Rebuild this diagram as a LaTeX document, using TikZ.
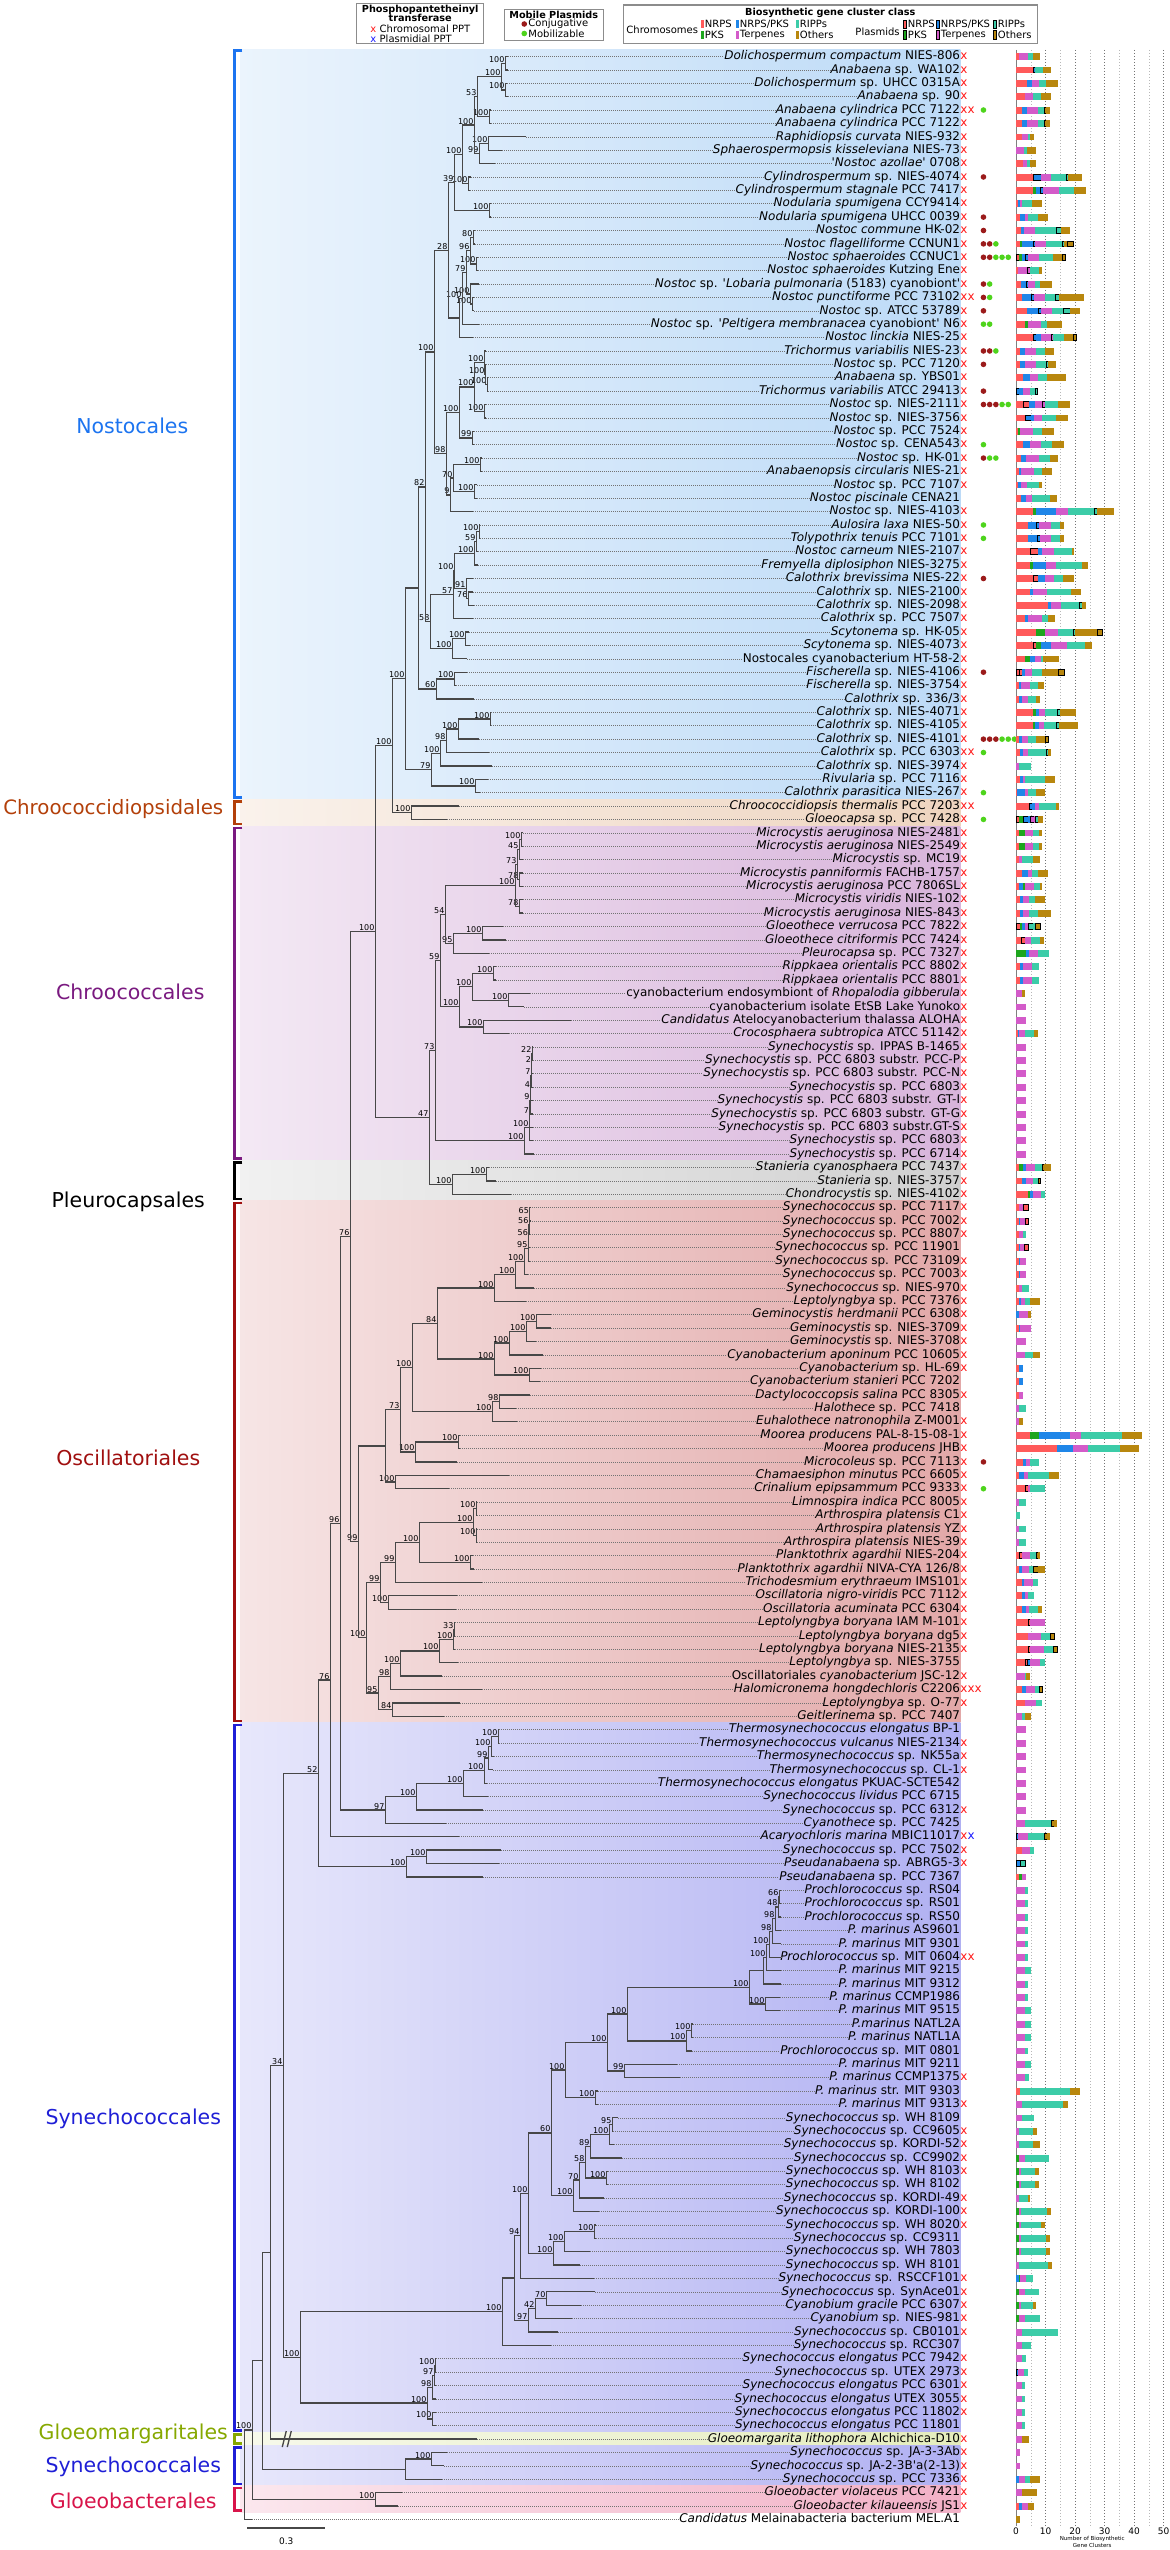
\documentclass[tikz,border=0pt]{standalone}
\usepackage{fontspec}
\setmainfont{DejaVu Sans}
\usetikzlibrary{calc}
\definecolor{fr}{HTML}{FF5A5A}
\definecolor{fk}{HTML}{1DA61D}
\definecolor{fb}{HTML}{1F86E8}
\definecolor{fm}{HTML}{D35BC9}
\definecolor{ft}{HTML}{3CCCA8}
\definecolor{fo}{HTML}{B8870E}
\colorlet{fR}{fr}\colorlet{fK}{fk}\colorlet{fB}{fb}\colorlet{fM}{fm}\colorlet{fT}{ft}\colorlet{fO}{fo}
\colorlet{er}{fr}\colorlet{ek}{fk}\colorlet{eb}{fb}\colorlet{em}{fm}\colorlet{et}{ft}\colorlet{eo}{fo}
\colorlet{eR}{black}\colorlet{eK}{black}\colorlet{eB}{black}\colorlet{eM}{black}\colorlet{eT}{black}\colorlet{eO}{black}
\definecolor{pptred}{HTML}{FF1A1A}
\definecolor{pptblue}{HTML}{1A1AFF}
\definecolor{conjc}{HTML}{9B1B1B}
\definecolor{mobic}{HTML}{4ED41C}
\definecolor{nosC}{HTML}{1C74F0}
\definecolor{cdpC}{HTML}{B3400A}
\definecolor{chrC}{HTML}{7A1A80}
\definecolor{oscC}{HTML}{A00F0F}
\definecolor{synC}{HTML}{1F1FD6}
\definecolor{gmaC}{HTML}{86A800}
\definecolor{gbaC}{HTML}{D8154A}
\definecolor{nosB}{HTML}{BCDAF7}
\definecolor{cdpB}{HTML}{EED4BF}
\definecolor{chrB}{HTML}{D8B4DB}
\definecolor{pleB}{HTML}{D0D0D0}
\definecolor{oscB}{HTML}{E2A8A8}
\definecolor{synB}{HTML}{B0B0F2}
\definecolor{gmaB}{HTML}{E4ECBC}
\definecolor{gbaB}{HTML}{F2B0C6}
\newcommand\squote{\textquotesingle}
\newcommand\leaf[7]{%
  \coordinate (t#1) at (#2,#1);
  \node[taxon] (l#1) at (960,#1) {#3};
  \draw[tipline] (t#1) -- (l#1.west);
  \if\relax\detokenize{#4}\relax\else\node[ppt] (x#1) at (960,#1) {#4};\fi
  \ifnum#5>0 \foreach \dd in {1,...,#5}{\node[conj] (c#1n\dd) at ({977+6.2*\dd},#1) {};}\fi
  \ifnum#6>0 \foreach \dd in {1,...,#6}{\node[mobi] (m#1n\dd) at ({977+6.2*(#5+\dd)},#1) {};}\fi
  \gdef\bpos{0}%
  \foreach \col/\wid in {#7}{\path[fill=f\col,draw=e\col,line width=0.7pt] ({1015.8+2.95*\bpos},#1-0.22) rectangle ({1015.8+2.95*(\bpos+\wid)},#1+0.22);
    \pgfmathsetmacro\bnext{\bpos+\wid}\global\let\bpos\bnext}%
}
\newcommand\clade[5]{%
  \path let \p1=(#3),\p2=(#4) in (#2pt,{0.5*(\y1+\y2)}) coordinate (#1);
  \draw[branch] (#3) -| (#1) |- (#4);
  \if\relax\detokenize{#5}\relax\else\node[boot] (#1b) at (#1) {#5};\fi
}

\begin{document}
\begin{tikzpicture}[x=1pt,y=-13.385pt,
  taxon/.style={anchor=east,inner sep=0pt,text height=8.8pt,text depth=2.4pt,font=\fontsize{12}{12}\selectfont},
  ppt/.style={anchor=west,inner sep=0pt,text height=8.8pt,text depth=2.4pt,text=pptred,font=\fontsize{12}{12}\selectfont},
  conj/.style={circle,fill=conjc,inner sep=0pt,minimum size=5.6pt},
  mobi/.style={circle,fill=mobic,inner sep=0pt,minimum size=5.6pt},
  branch/.style={draw=black!72,line width=1.3pt},
  tipline/.style={draw=black!55,line width=0.6pt,dash pattern=on 0.7pt off 1.3pt},
  boot/.style={anchor=south east,inner sep=0.7pt,font=\fontsize{8}{8}\selectfont},
  cladelbl/.style={font=\fontsize{20.5}{20.5}\selectfont},
  bracket/.style={line width=2.6pt},
  legbox/.style={draw=black!45,line width=1.2pt,fill=white},
  legtitle/.style={inner sep=0pt,font=\bfseries\fontsize{9.7}{9.7}\selectfont},
  legtext/.style={anchor=west,inner sep=0pt,font=\fontsize{10}{10}\selectfont},
  gridten/.style={draw=black!55,line width=0.5pt,dash pattern=on 1.5pt off 1.5pt},
  gridfive/.style={draw=black!28,line width=0.5pt,dash pattern=on 1.5pt off 1.5pt},
  axislbl/.style={inner sep=0pt,font=\fontsize{9}{9}\selectfont}]

\begin{scope}[y=-1pt,yshift=56.5pt]
\useasboundingbox (0,0) rectangle (1166,2550);
\end{scope}

\path[left color=nosB!30,right color=nosB] (240,-0.5) rectangle (960,55.5);
\path[left color=cdpB!30,right color=cdpB] (240,55.5) rectangle (960,57.5);
\path[left color=chrB!30,right color=chrB] (240,57.5) rectangle (960,82.5);
\path[left color=pleB!30,right color=pleB] (240,82.5) rectangle (960,85.5);
\path[left color=oscB!30,right color=oscB] (240,85.5) rectangle (960,124.5);
\path[left color=synB!30,right color=synB] (240,124.5) rectangle (960,177.5);
\path[left color=gmaB!30,right color=gmaB] (240,177.5) rectangle (960,178.5);
\path[left color=synB!30,right color=synB] (240,178.5) rectangle (960,181.5);
\path[left color=gbaB!30,right color=gbaB] (240,181.5) rectangle (960,183.5);

\draw[bracket,draw=nosC] (242,-0.45) -- (234,-0.45) -- (234,55.35) -- (242,55.35);
\draw[bracket,draw=cdpC] (242,55.65) -- (234,55.65) -- (234,57.35) -- (242,57.35);
\draw[bracket,draw=chrC] (242,57.65) -- (234,57.65) -- (234,82.35) -- (242,82.35);
\draw[bracket,draw=black] (242,82.65) -- (234,82.65) -- (234,85.35) -- (242,85.35);
\draw[bracket,draw=oscC] (242,85.65) -- (234,85.65) -- (234,124.35) -- (242,124.35);
\draw[bracket,draw=synC] (242,124.65) -- (234,124.65) -- (234,177.35) -- (242,177.35);
\draw[bracket,draw=gmaC] (242,177.65) -- (234,177.65) -- (234,178.35) -- (242,178.35);
\draw[bracket,draw=synC] (242,178.65) -- (234,178.65) -- (234,181.35) -- (242,181.35);
\draw[bracket,draw=gbaC] (242,181.65) -- (234,181.65) -- (234,183.35) -- (242,183.35);

\node[cladelbl,text=nosC] (nos) at (132,27.6) {Nostocales};
\node[cladelbl,text=cdpC,font=\fontsize{19.8}{19.8}\selectfont] (cdp) at (113,56.2) {Chroococcidiopsidales};
\node[cladelbl,text=chrC] (chr) at (130,69.9) {Chroococcales};
\node[cladelbl,text=black] (ple) at (128,85.6) {Pleurocapsales};
\node[cladelbl,text=oscC] (osc) at (128,104.7) {Oscillatoriales};
\node[cladelbl,text=synC] (syn1) at (133,154.1) {Synechococcales};
\node[cladelbl,text=gmaC] (gma) at (133,177.6) {Gloeomargaritales};
\node[cladelbl,text=synC] (syn2) at (133,180.1) {Synechococcales};
\node[cladelbl,text=gbaC] (gba) at (133,182.6) {Gloeobacterales};

\draw[draw=black!50,line width=0.8pt] (1015.8,-0.5) -- (1015.8,184.5);
\foreach \g in {1,3,5,7,9} {\draw[gridfive] ({1015.8+14.75*\g},-0.5) -- ({1015.8+14.75*\g},184.5);}
\foreach \g in {2,4,6,8,10} {\draw[gridten] ({1015.8+14.75*\g},-0.5) -- ({1015.8+14.75*\g},184.5);}

\begin{scope}[y=-1pt,yshift=56.5pt]
\draw[legbox] (356,3.3) rectangle (483,43.3);
\node[legtitle] (pp1) at (420,9.5) {Phosphopantetheinyl};
\node[legtitle] (pp2) at (420,17.5) {transferase};
\node[legtext] (pp3) at (370,29) {{\color{pptred}x}\,\,Chromosomal PPT};
\node[legtext] (pp4) at (370,39) {{\color{pptblue}x}\,\,Plasmidial PPT};
\draw[legbox] (504,9.3) rectangle (603,40.7);
\node[legtitle] (mp1) at (553.5,15) {Mobile Plasmids};
\node[conj] (mp2) at (524,24) {};
\node[legtext] (mp3) at (528,24) {Conjugative};
\node[mobi] (mp4) at (524,33.5) {};
\node[legtext] (mp5) at (528,33.5) {Mobilizable};
\draw[legbox] (623.5,5) rectangle (1037,43.3);
\node[legtitle] (bg1) at (830,13) {Biosynthetic gene cluster class};
\node[legtext] (bg2) at (626,29.5) {Chromosomes};
\node[legtext] (bg3) at (855,32) {Plasmids};
\foreach \sx/\sy/\sc/\st [count=\si] in {701/24.3/fr/NRPS,736/24.3/fb/{NRPS/PKS},796/24.3/ft/RIPPs,701/35/fk/PKS,736/35/fm/Terpenes,796/35/fo/Others}
  {\fill[\sc] (\sx,\sy-4.2) rectangle (\sx+2.5,\sy+4.2);
   \node[legtext] (ch\si) at (\sx+3.5,\sy) {\st};}
\foreach \sx/\sy/\sc/\st [count=\si] in {903/24.3/fr/NRPS,936/24.3/fb/{NRPS/PKS},993/24.3/ft/RIPPs,903/35/fk/PKS,936/35/fm/Terpenes,993/35/fo/Others}
  {\filldraw[fill=\sc,draw=black,line width=0.7pt] (\sx,\sy-4.2) rectangle (\sx+3.2,\sy+4.2);
   \node[legtext] (pl\si) at (\sx+4.5,\sy) {\st};}
\foreach \g/\v in {0/0,1/10,2/20,3/30,4/40,5/50}
  {\node[axislbl] (tk\g) at ({1015.8+29.5*\g},2531) {\v};}
\node[inner sep=0pt,font=\fontsize{5.5}{5.5}\selectfont] (ax1) at (1092,2538.5) {Number of Biosynthetic};
\node[inner sep=0pt,font=\fontsize{5.5}{5.5}\selectfont] (ax2) at (1092,2545) {Gene Clusters};
\coordinate (sbl) at (247,2528);
\coordinate (sbr) at (325,2528);
\draw[branch] (sbl) -- (sbr);
\node[axislbl] (sbt) at (286,2541) {0.3};
\end{scope}

\leaf{0}{508}{\textit{Dolichospermum compactum} NIES-806}{x}{0}{0}{r/1,m/3,t/2,o/2}
\leaf{1}{508}{\textit{Anabaena} sp. WA102}{x}{0}{0}{r/6,B/0.7,t/2.5,o/2.5}
\leaf{2}{507}{\textit{Dolichospermum} sp. UHCC 0315A}{x}{0}{0}{r/3.7,b/1.7,m/2.5,t/2.5,o/3.5}
\leaf{3}{508}{\textit{Anabaena} sp. 90}{x}{0}{0}{r/3,m/2.8,t/2.8,o/3}
\leaf{4}{491}{\textit{Anabaena cylindrica} PCC 7122}{xx}{0}{1}{r/2,b/1.7,m/4,t/2,O/0.7,o/1}
\leaf{5}{491}{\textit{Anabaena cylindrica} PCC 7122}{x}{0}{0}{r/2,b/1.7,m/4,t/2,O/0.7,o/1}
\leaf{6}{526}{\textit{Raphidiopsis curvata} NIES-932}{x}{0}{0}{r/2,m/2,t/1,o/1}
\leaf{7}{502}{\textit{Sphaerospermopsis kisseleviana} NIES-73}{x}{0}{0}{m/2.7,t/1,o/3}
\leaf{8}{495}{\textit{\squote Nostoc azollae\squote} 0708}{x}{0}{0}{r/2.5,m/1.3,t/1.2,o/1.7}
\leaf{9}{471}{\textit{Cylindrospermum} sp. NIES-4074}{x}{1}{0}{r/6,B/2.5,m/3.5,t/5,T/0.7,o/4.3}
\leaf{10}{470}{\textit{Cylindrospermum stagnale} PCC 7417}{x}{0}{0}{r/6,k/1,b/1.3,B/1,m/5.5,t/5,o/3.7}
\leaf{11}{491}{\textit{Nodularia spumigena} CCY9414}{x}{0}{0}{r/0.7,b/0.7,m/0.7,t/3.5,o/2.8}
\leaf{12}{491}{\textit{Nodularia spumigena} UHCC 0039}{x}{1}{0}{r/1.3,b/2,m/0.7,t/3.7,o/2.8}
\leaf{13}{475}{\textit{Nostoc commune} HK-02}{x}{1}{0}{r/1.7,b/1.2,m/3.8,t/7,T/1.5,o/3}
\leaf{14}{475}{\textit{Nostoc flagelliforme} CCNUN1}{x}{2}{1}{r/1.3,k/0.7,b/3.8,B/0.8,m/3.8,t/5.3,T/0.8,o/1,O/2}
\leaf{15}{478}{\textit{Nostoc sphaeroides} CCNUC1}{x}{2}{3}{R/1,k/1,b/1.3,B/0.7,m/3.8,t/4.7,o/3.3,O/0.8}
\leaf{16}{478}{\textit{Nostoc sphaeroides} Kutzing Ene}{x}{0}{0}{r/0.7,m/3,M/1,t/3.2,o/0.8}
\leaf{17}{479}{\textit{Nostoc} sp. \squote\textit{Lobaria pulmonaria} (5183) cyanobiont\squote}{x}{1}{1}{r/1.7,b/1.7,B/0.7,m/2.5,t/1.5,o/3.8}
\leaf{18}{474}{\textit{Nostoc punctiforme} PCC 73102}{xx}{1}{1}{r/2,b/3.3,B/0.8,m/3.7,t/3.5,T/1.5,o/8}
\leaf{19}{474}{\textit{Nostoc} sp. ATCC 53789}{x}{1}{0}{r/3.7,b/4,B/1,m/3.7,t/3.5,T/2.5,o/3}
\leaf{20}{479}{\textit{Nostoc} sp. \squote\textit{Peltigera membranacea} cyanobiont\squote{} N6}{x}{0}{2}{r/3,k/1,m/4.5,t/2,o/5}
\leaf{21}{473}{\textit{Nostoc linckia} NIES-25}{x}{0}{0}{r/6,B/1,b/1.5,m/3.5,M/0.7,t/3.8,o/3,O/1}
\leaf{22}{486}{\textit{Trichormus variabilis} NIES-23}{x}{2}{1}{r/1.3,b/1.7,m/3.8,t/3,o/3}
\leaf{23}{486}{\textit{Nostoc} sp. PCC 7120}{x}{1}{0}{r/1.3,b/1.7,m/3.8,t/3.3,T/0.8,o/2.5}
\leaf{24}{488}{\textit{Anabaena} sp. YBS01}{x}{0}{0}{r/2.5,b/2.5,m/2.7,t/3,o/6}
\leaf{25}{488}{\textit{Trichormus variabilis} ATCC 29413}{x}{1}{0}{B/1,b/1.5,m/2.5,t/1.5,T/0.8}
\leaf{26}{486}{\textit{Nostoc} sp. NIES-2111}{x}{3}{2}{r/2.5,R/2,b/2,m/2.5,M/0.8,t/4.5,o/3.7}
\leaf{27}{486}{\textit{Nostoc} sp. NIES-3756}{x}{0}{0}{r/3,B/2.3,b/1,m/2.5,t/5,o/3.7}
\leaf{28}{474}{\textit{Nostoc} sp. PCC 7524}{x}{0}{0}{r/0.8,k/0.7,m/4.5,t/3,o/3.5}
\leaf{29}{474}{\textit{Nostoc} sp. CENA543}{x}{0}{1}{r/2.5,b/2.5,m/3.5,t/3.7,o/3.7}
\leaf{30}{482}{\textit{Nostoc} sp. HK-01}{x}{1}{2}{r/1.7,b/1.7,m/4.5,t/3.8,o/2.3}
\leaf{31}{482}{\textit{Anabaenopsis circularis} NIES-21}{x}{0}{0}{r/1,b/0.7,m/4.5,t/2.8,o/3}
\leaf{32}{477}{\textit{Nostoc} sp. PCC 7107}{x}{0}{0}{r/0.8,b/1,m/2,t/4,o/0.8}
\leaf{33}{477}{\textit{Nostoc piscinale} CENA21}{}{0}{0}{r/1.7,b/1.7,m/2,t/6.3,o/2}
\leaf{34}{473}{\textit{Nostoc} sp. NIES-4103}{x}{0}{0}{r/6,k/0.8,b/7,m/3.8,t/9,T/0.8,o/5.5}
\leaf{35}{480}{\textit{Aulosira laxa} NIES-50}{x}{0}{1}{r/4,b/3,B/1,m/4,t/3,o/1}
\leaf{36}{480}{\textit{Tolypothrix tenuis} PCC 7101}{x}{0}{1}{r/4,b/3.3,B/1,m/3.5,t/3.3,o/1}
\leaf{37}{478}{\textit{Nostoc carneum} NIES-2107}{x}{0}{0}{r/5,R/2.5,b/1.5,m/4,t/6,o/0.5}
\leaf{38}{478}{\textit{Fremyella diplosiphon} NIES-3275}{x}{0}{0}{r/5,k/1,b/4.3,m/3.3,t/8.7,o/2}
\leaf{39}{473}{\textit{Calothrix brevissima} NIES-22}{x}{1}{0}{r/6,R/1.5,b/2.5,m/3,t/3,o/3.3}
\leaf{40}{473}{\textit{Calothrix} sp. NIES-2100}{x}{0}{0}{r/5,b/1,m/4.7,t/8,o/3}
\leaf{41}{474}{\textit{Calothrix} sp. NIES-2098}{x}{0}{0}{r/11,b/1,m/3.5,t/6,T/1,o/1}
\leaf{42}{473}{\textit{Calothrix} sp. PCC 7507}{x}{0}{0}{r/3,b/1,m/5,t/2,o/2}
\leaf{43}{469}{\textit{Scytonema} sp. HK-05}{x}{0}{0}{r/7,k/3,m/4.5,t/5,T/0.7,o/7.5,O/1.5}
\leaf{44}{470}{\textit{Scytonema} sp. NIES-4073}{x}{0}{0}{r/6,R/1,k/1.7,b/3.3,m/5.5,t/6,o/2}
\leaf{45}{467}{Nostocales cyanobacterium HT-58-2}{x}{0}{0}{r/3,k/2,b/1.7,m/1.7,t/1,o/5}
\leaf{46}{467}{\textit{Fischerella} sp. NIES-4106}{x}{1}{0}{R/1,R/1,b/1,m/2.5,t/3.5,o/5.5,O/2}
\leaf{47}{456}{\textit{Fischerella} sp. NIES-3754}{x}{0}{0}{r/1,b/0.7,m/3,t/3,o/1.5}
\leaf{48}{474}{\textit{Calothrix} sp. 336/3}{x}{0}{0}{r/1,b/1,m/2,t/3,o/1}
\leaf{49}{491}{\textit{Calothrix} sp. NIES-4071}{x}{0}{0}{r/6,k/1,b/1,m/2,t/4,T/1,o/5}
\leaf{50}{491}{\textit{Calothrix} sp. NIES-4105}{x}{0}{0}{r/6,k/0.5,b/1.5,m/1.7,t/4,T/1,o/6}
\leaf{51}{479}{\textit{Calothrix} sp. NIES-4101}{x}{3}{3}{r/1,b/1,m/2,t/3,o/3,O/1}
\leaf{52}{489}{\textit{Calothrix} sp. PCC 6303}{xx}{0}{1}{r/1.5,b/0.8,m/2,t/6,T/0.5,o/0.8}
\leaf{53}{492}{\textit{Calothrix} sp. NIES-3974}{x}{0}{0}{m/1,t/4}
\leaf{54}{488}{\textit{Rivularia} sp. PCC 7116}{x}{0}{0}{r/1.5,b/1,m/0.8,t/6.5,o/3.2}
\leaf{55}{480}{\textit{Calothrix parasitica} NIES-267}{x}{0}{1}{r/0.5,b/2.5,m/1,t/3,o/2.5}
\leaf{56}{459}{\textit{Chroococcidiopsis thermalis} PCC 7203}{xx}{0}{0}{r/4.5,B/1,b/1,m/1.5,t/5.5,o/1}
\leaf{57}{447}{\textit{Gloeocapsa} sp. PCC 7428}{x}{0}{1}{R/1,k/1.5,B/1.7,b/0.5,M/1.5,m/0.5,T/0.8,o/1.3}
\leaf{58}{523}{\textit{Microcystis aeruginosa} NIES-2481}{x}{0}{0}{r/1,k/2,m/3,t/2,o/0.7}
\leaf{59}{523}{\textit{Microcystis aeruginosa} NIES-2549}{x}{0}{0}{r/1,k/2,m/3,t/2,o/0.7}
\leaf{60}{523}{\textit{Microcystis} sp. MC19}{x}{0}{0}{r/1,m/1.2,t/3.8,o/2}
\leaf{61}{523}{\textit{Microcystis panniformis} FACHB-1757}{x}{0}{0}{r/2,b/2,m/1.5,t/2,o/3}
\leaf{62}{523}{\textit{Microcystis aeruginosa} PCC 7806SL}{x}{0}{0}{r/1,b/1.5,k/0.7,m/3,t/2,o/0.5}
\leaf{63}{523}{\textit{Microcystis viridis} NIES-102}{x}{0}{0}{r/1.3,b/1.3,m/2,t/2,o/3}
\leaf{64}{523}{\textit{Microcystis aeruginosa} NIES-843}{x}{0}{0}{r/1.5,b/1,m/2,t/3,o/4}
\leaf{65}{503}{\textit{Gloeothece verrucosa} PCC 7822}{x}{0}{0}{R/1.3,k/0.7,b/1,m/1,T/1.7,t/1,O/1.5}
\leaf{66}{506}{\textit{Gloeothece citriformis} PCC 7424}{x}{0}{0}{r/1.7,R/1.5,m/2,t/3,o/1}
\leaf{67}{489}{\textit{Pleurocapsa} sp. PCC 7327}{x}{0}{0}{k/3.5,b/1,m/3,t/3.5}
\leaf{68}{496}{\textit{Rippkaea orientalis} PCC 8802}{x}{0}{0}{r/1.5,b/1,m/3,t/2}
\leaf{69}{496}{\textit{Rippkaea orientalis} PCC 8801}{x}{0}{0}{r/1.5,b/1,m/3,t/2}
\leaf{70}{530}{cyanobacterium endosymbiont of \textit{Rhopalodia gibberula}}{x}{0}{0}{m/2,o/0.7}
\leaf{71}{524}{cyanobacterium isolate EtSB Lake Yunoko}{x}{0}{0}{m/3}
\leaf{72}{571}{\textit{Candidatus} Atelocyanobacterium thalassa ALOHA}{x}{0}{0}{m/3}
\leaf{73}{509}{\textit{Crocosphaera subtropica} ATCC 51142}{x}{0}{0}{r/0.7,b/0.5,m/2,t/3,o/1}
\leaf{74}{533}{\textit{Synechocystis} sp. IPPAS B-1465}{x}{0}{0}{m/3}
\leaf{75}{533}{\textit{Synechocystis} sp. PCC 6803 substr. PCC-P}{x}{0}{0}{m/3}
\leaf{76}{533}{\textit{Synechocystis} sp. PCC 6803 substr. PCC-N}{x}{0}{0}{m/3}
\leaf{77}{533}{\textit{Synechocystis} sp. PCC 6803}{x}{0}{0}{m/3}
\leaf{78}{533}{\textit{Synechocystis} sp. PCC 6803 substr. GT-I}{x}{0}{0}{m/3}
\leaf{79}{533}{\textit{Synechocystis} sp. PCC 6803 substr. GT-G}{x}{0}{0}{m/3}
\leaf{80}{533}{\textit{Synechocystis} sp. PCC 6803 substr.GT-S}{x}{0}{0}{m/3}
\leaf{81}{533}{\textit{Synechocystis} sp. PCC 6803}{x}{0}{0}{m/3}
\leaf{82}{534}{\textit{Synechocystis} sp. PCC 6714}{x}{0}{0}{m/3}
\leaf{83}{489}{\textit{Stanieria cyanosphaera} PCC 7437}{x}{0}{0}{r/1,k/1.5,b/1,m/3,t/2.5,O/0.7,o/1.8}
\leaf{84}{496}{\textit{Stanieria} sp. NIES-3757}{x}{0}{0}{r/2,b/1.5,m/2.5,t/1.5,O/0.7}
\leaf{85}{511}{\textit{Chondrocystis} sp. NIES-4102}{x}{0}{0}{r/4,k/1,b/1,m/2.5,t/1}
\leaf{86}{530}{\textit{Synechococcus} sp. PCC 7117}{x}{0}{0}{r/1,m/1.5,R/1.5}
\leaf{87}{530}{\textit{Synechococcus} sp. PCC 7002}{x}{0}{0}{r/1,b/0.5,m/1.5,R/1}
\leaf{88}{530}{\textit{Synechococcus} sp. PCC 8807}{x}{0}{0}{r/1,m/1.5,t/0.5}
\leaf{89}{530}{\textit{Synechococcus} sp. PCC 11901}{}{0}{0}{r/1,b/0.5,m/1.3,R/1.2}
\leaf{90}{530}{\textit{Synechococcus} sp. PCC 73109}{x}{0}{0}{r/1,b/0.5,m/1.5}
\leaf{91}{528}{\textit{Synechococcus} sp. PCC 7003}{x}{0}{0}{r/1,b/0.5,m/1.5}
\leaf{92}{534}{\textit{Synechococcus} sp. NIES-970}{x}{0}{0}{r/1,m/1,t/2}
\leaf{93}{526}{\textit{Leptolyngbya} sp. PCC 7376}{x}{0}{0}{r/1,b/0.7,m/1.3,t/2,o/3}
\leaf{94}{551}{\textit{Geminocystis herdmanii} PCC 6308}{x}{0}{0}{b/1,m/3,o/1}
\leaf{95}{551}{\textit{Geminocystis} sp. NIES-3709}{x}{0}{0}{r/1,b/0.5,m/3.5}
\leaf{96}{536}{\textit{Geminocystis} sp. NIES-3708}{x}{0}{0}{m/3}
\leaf{97}{543}{\textit{Cyanobacterium aponinum} PCC 10605}{x}{0}{0}{m/3,t/3,o/2}
\leaf{98}{541}{\textit{Cyanobacterium} sp. HL-69}{x}{0}{0}{r/1,b/1}
\leaf{99}{540}{\textit{Cyanobacterium stanieri} PCC 7202}{}{0}{0}{r/1,b/1}
\leaf{100}{530}{\textit{Dactylococcopsis salina} PCC 8305}{x}{0}{0}{r/1,m/1}
\leaf{101}{516}{\textit{Halothece} sp. PCC 7418}{}{0}{0}{m/1,t/2}
\leaf{102}{517}{\textit{Euhalothece natronophila} Z-M001}{x}{0}{0}{m/1,o/1}
\leaf{103}{460}{\textit{Moorea producens} PAL-8-15-08-1}{x}{0}{0}{r/5,k/3,b/10.5,m/3.5,t/14,o/6.5}
\leaf{104}{460}{\textit{Moorea producens} JHB}{x}{0}{0}{r/14,b/5.5,m/5,t/11,o/6}
\leaf{105}{457}{\textit{Microcoleus} sp. PCC 7113}{x}{1}{0}{r/2.5,b/1,m/1.5,t/2.5}
\leaf{106}{509}{\textit{Chamaesiphon minutus} PCC 6605}{x}{0}{0}{r/1,b/1.7,m/1.5,t/7,o/3}
\leaf{107}{449}{\textit{Crinalium epipsammum} PCC 9333}{x}{0}{1}{r/3,R/1,m/1,t/4.5}
\leaf{108}{477}{\textit{Limnospira indica} PCC 8005}{x}{0}{0}{m/1,t/2}
\leaf{109}{477}{\textit{Arthrospira platensis} C1}{x}{0}{0}{t/1}
\leaf{110}{477}{\textit{Arthrospira platensis} YZ}{x}{0}{0}{m/1,t/2}
\leaf{111}{477}{\textit{Arthrospira platensis} NIES-39}{x}{0}{0}{m/1,t/2}
\leaf{112}{473}{\textit{Planktothrix agardhii} NIES-204}{x}{0}{0}{r/1,R/1,m/3,t/2,O/0.5,o/0.5}
\leaf{113}{474}{\textit{Planktothrix agardhii} NIVA-CYA 126/8}{x}{0}{0}{r/1,b/1,m/2.5,t/1.5,O/1.5,o/2}
\leaf{114}{482}{\textit{Trichodesmium erythraeum} IMS101}{x}{0}{0}{r/2,b/0.7,m/3,t/1.5}
\leaf{115}{457}{\textit{Oscillatoria nigro-viridis} PCC 7112}{x}{0}{0}{r/2,b/1,m/1,t/2}
\leaf{116}{456}{\textit{Oscillatoria acuminata} PCC 6304}{x}{0}{0}{r/2,b/1.5,m/1,t/3,o/1}
\leaf{117}{455}{\textit{Leptolyngbya boryana} IAM M-101}{x}{0}{0}{r/4,R/1,m/4.5}
\leaf{118}{455}{\textit{Leptolyngbya boryana} dg5}{x}{0}{0}{r/4,m/4.5,t/3,O/1.5}
\leaf{119}{455}{\textit{Leptolyngbya boryana} NIES-2135}{x}{0}{0}{r/4,R/1,m/4.5,t/3,O/1.5}
\leaf{120}{458}{\textit{Leptolyngbya} sp. NIES-3755}{}{0}{0}{r/3,R/0.7,B/1,m/3.5,t/1.5}
\leaf{121}{442}{Oscillatoriales \textit{cyanobacterium} JSC-12}{x}{0}{0}{m/3,t/0.5,o/1}
\leaf{122}{482}{\textit{Halomicronema hongdechloris} C2206}{xxx}{0}{0}{r/2,b/1.5,m/3,t/1.3,O/1}
\leaf{123}{460}{\textit{Leptolyngbya} sp. O-77}{x}{0}{0}{r/3,m/4,t/1.7}
\leaf{124}{444}{\textit{Geitlerinema} sp. PCC 7407}{}{0}{0}{m/2,t/1,o/2}
\leaf{125}{499}{\textit{Thermosynechococcus elongatus} BP-1}{}{0}{0}{m/3}
\leaf{126}{499}{\textit{Thermosynechococcus vulcanus} NIES-2134}{x}{0}{0}{m/3}
\leaf{127}{494}{\textit{Thermosynechococcus} sp. NK55a}{x}{0}{0}{m/3}
\leaf{128}{493}{\textit{Thermosynechococcus} sp. CL-1}{x}{0}{0}{m/3}
\leaf{129}{487}{\textit{Thermosynechococcus elongatus} PKUAC-SCTE542}{}{0}{0}{m/3}
\leaf{130}{488}{\textit{Synechococcus lividus} PCC 6715}{}{0}{0}{m/3}
\leaf{131}{483}{\textit{Synechococcus} sp. PCC 6312}{x}{0}{0}{m/3}
\leaf{132}{446}{\textit{Cyanothece} sp. PCC 7425}{}{0}{0}{m/3,t/9,O/1,o/0.7}
\leaf{133}{459}{\textit{Acaryochloris marina} MBIC11017}{x{\color{pptblue}x}}{0}{0}{B/0.7,m/3.5,t/5.5,O/1,o/0.5}
\leaf{134}{501}{\textit{Synechococcus} sp. PCC 7502}{x}{0}{0}{r/2,m/3,t/1}
\leaf{135}{499}{\textit{Pseudanabaena} sp. ABRG5-3}{x}{0}{0}{B/1.5,T/1.5}
\leaf{136}{483}{\textit{Pseudanabaena} sp. PCC 7367}{}{0}{0}{r/1,k/1,m/1}
\leaf{137}{781}{\textit{Prochlorococcus} sp. RS04}{}{0}{0}{m/3,t/0.7}
\leaf{138}{781}{\textit{Prochlorococcus} sp. RS01}{}{0}{0}{m/3,t/0.7}
\leaf{139}{781}{\textit{Prochlorococcus} sp. RS50}{}{0}{0}{m/3,t/0.7}
\leaf{140}{781}{\textit{P. marinus} AS9601}{}{0}{0}{m/3,t/0.7}
\leaf{141}{781}{\textit{P. marinus} MIT 9301}{}{0}{0}{m/3,t/0.7}
\leaf{142}{781}{\textit{Prochlorococcus} sp. MIT 0604}{xx}{0}{0}{m/3,t/0.7}
\leaf{143}{781}{\textit{P. marinus} MIT 9215}{}{0}{0}{m/3,t/1.7}
\leaf{144}{781}{\textit{P. marinus} MIT 9312}{}{0}{0}{m/3,t/0.7}
\leaf{145}{780}{\textit{P. marinus} CCMP1986}{}{0}{0}{m/3,t/0.7}
\leaf{146}{780}{\textit{P. marinus} MIT 9515}{}{0}{0}{m/3,t/1.7}
\leaf{147}{693}{\textit{P.marinus} NATL2A}{}{0}{0}{m/3,t/1.7}
\leaf{148}{693}{\textit{P. marinus} NATL1A}{}{0}{0}{m/3,t/1.7}
\leaf{149}{692}{\textit{Prochlorococcus} sp. MIT 0801}{}{0}{0}{m/3,t/0.7}
\leaf{150}{677}{\textit{P. marinus} MIT 9211}{}{0}{0}{m/3,t/1.7}
\leaf{151}{680}{\textit{P. marinus} CCMP1375}{x}{0}{0}{m/3,t/1}
\leaf{152}{598}{\textit{P. marinus} str. MIT 9303}{}{0}{0}{r/1.5,t/17,o/3}
\leaf{153}{598}{\textit{P. marinus} MIT 9313}{x}{0}{0}{m/2,t/14,o/1.5}
\leaf{154}{618}{\textit{Synechococcus} sp. WH 8109}{}{0}{0}{m/2,t/4}
\leaf{155}{613}{\textit{Synechococcus} sp. CC9605}{x}{0}{0}{m/1,t/5,o/1}
\leaf{156}{614}{\textit{Synechococcus} sp. KORDI-52}{x}{0}{0}{m/1,t/5,o/2}
\leaf{157}{622}{\textit{Synechococcus} sp. CC9902}{x}{0}{0}{k/1,m/2,t/8}
\leaf{158}{608}{\textit{Synechococcus} sp. WH 8103}{x}{0}{0}{k/1,m/0.7,t/5,o/1}
\leaf{159}{608}{\textit{Synechococcus} sp. WH 8102}{}{0}{0}{k/1,m/0.7,t/5,o/1}
\leaf{160}{604}{\textit{Synechococcus} sp. KORDI-49}{x}{0}{0}{m/1,t/3,o/0.5}
\leaf{161}{599}{\textit{Synechococcus} sp. KORDI-100}{x}{0}{0}{k/1,m/0.7,t/9,o/1}
\leaf{162}{596}{\textit{Synechococcus} sp. WH 8020}{x}{0}{0}{k/1,m/0.7,t/7,o/1}
\leaf{163}{596}{\textit{Synechococcus} sp. CC9311}{}{0}{0}{k/1,m/0.7,t/8.5,o/1}
\leaf{164}{590}{\textit{Synechococcus} sp. WH 7803}{}{0}{0}{k/1,m/0.7,t/8.5,o/1}
\leaf{165}{580}{\textit{Synechococcus} sp. WH 8101}{}{0}{0}{m/1,t/10,o/1}
\leaf{166}{594}{\textit{Synechococcus} sp. RSCCF101}{x}{0}{0}{b/1,k/0.5,m/2,t/2}
\leaf{167}{595}{\textit{Synechococcus} sp. SynAce01}{x}{0}{0}{k/1,m/2,t/4.5}
\leaf{168}{581}{\textit{Cyanobium gracile} PCC 6307}{x}{0}{0}{k/1,m/0.7,t/4,o/1}
\leaf{169}{572}{\textit{Cyanobium} sp. NIES-981}{x}{0}{0}{k/1,m/2,t/5}
\leaf{170}{558}{\textit{Synechococcus} sp. CB0101}{x}{0}{0}{m/2,t/12}
\leaf{171}{551}{\textit{Synechococcus} sp. RCC307}{}{0}{0}{m/2,t/3}
\leaf{172}{436}{\textit{Synechococcus elongatus} PCC 7942}{x}{0}{0}{m/2,t/1}
\leaf{173}{436}{\textit{Synechococcus} sp. UTEX 2973}{x}{0}{0}{B/0.7,m/2,t/1}
\leaf{174}{436}{\textit{Synechococcus elongatus} PCC 6301}{x}{0}{0}{m/2,t/0.8}
\leaf{175}{436}{\textit{Synechococcus elongatus} UTEX 3055}{x}{0}{0}{m/2,t/0.8}
\leaf{176}{436}{\textit{Synechococcus elongatus} PCC 11802}{x}{0}{0}{m/2,t/0.8}
\leaf{177}{436}{\textit{Synechococcus elongatus} PCC 11801}{}{0}{0}{m/2,t/0.8}
\leaf{178}{477}{\textit{Gloeomargarita lithophora} Alchichica-D10}{x}{0}{0}{m/2,o/2}
\leaf{179}{447}{\textit{Synechococcus} sp. JA-3-3Ab}{x}{0}{0}{m/1}
\leaf{180}{444}{\textit{Synechococcus} sp. JA-2-3B\squote a(2-13)}{x}{0}{0}{m/1}
\leaf{181}{442}{\textit{Synechococcus} sp. PCC 7336}{x}{0}{0}{b/1,m/2,t/2,o/3}
\leaf{182}{402}{\textit{Gloeobacter violaceus} PCC 7421}{x}{0}{0}{m/2,o/5}
\leaf{183}{398}{\textit{Gloeobacter kilaueensis} JS1}{x}{0}{0}{r/1,b/1,m/2,o/2}
\leaf{184}{252}{\textit{Candidatus} Melainabacteria bacterium MEL.A1}{}{0}{0}{o/1}

\clade{a1}{505}{t0}{t1}{100}
\clade{a2}{505}{t2}{t3}{100}
\clade{a3}{501}{a1}{a2}{100}
\clade{a4}{489}{t4}{t5}{100}
\clade{a5}{477}{a3}{a4}{53}
\clade{a6}{488}{t6}{t7}{100}
\clade{a7}{479}{a6}{t8}{99}
\clade{a8}{474}{a5}{a7}{100}
\clade{a9}{468}{t9}{t10}{100}
\clade{a10}{462}{a8}{a9}{100}
\clade{a11}{489}{t11}{t12}{100}
\clade{a12}{454}{a10}{a11}{39}
\clade{a13}{473}{t13}{t14}{80}
\clade{a14}{476}{t15}{t16}{100}
\clade{a15}{470}{a13}{a14}{96}
\clade{a17}{472}{t18}{t19}{100}
\clade{a18}{470}{t17}{a17}{100}
\clade{a16}{466}{a15}{a18}{79}
\clade{a19}{462}{a16}{t20}{100}
\clade{a20}{459}{a19}{t21}{}
\clade{a21}{448}{a12}{a20}{28}
\clade{b1}{487}{t24}{t25}{100}
\clade{b2}{485}{t23}{b1}{100}
\clade{b3}{484}{t22}{b2}{100}
\clade{b4}{484}{t26}{t27}{100}
\clade{b5}{474}{b3}{b4}{100}
\clade{b6}{472}{t28}{t29}{99}
\clade{b7}{459}{b5}{b6}{100}
\clade{b8}{480}{t30}{t31}{100}
\clade{b9}{474}{t32}{t33}{100}
\clade{b10}{453}{b8}{b9}{70}
\clade{b11}{450}{b10}{t34}{9}
\clade{b12}{446}{b7}{b11}{98}
\clade{b13}{434}{a21}{b12}{100}
\clade{c1}{479}{t35}{t36}{100}
\clade{c2}{476}{c1}{t37}{59}
\clade{c3}{474}{c2}{t38}{100}
\clade{c4}{468}{t40}{t41}{76}
\clade{c5}{466}{t39}{c4}{91}
\clade{c6}{454}{c3}{c5}{100}
\clade{c7}{453}{c6}{t42}{57}
\clade{c8}{465}{t43}{t44}{100}
\clade{c9}{452}{c8}{t45}{100}
\clade{c10}{430}{c7}{c9}{58}
\clade{c11}{425}{b13}{c10}{82}
\clade{c12}{454}{t46}{t47}{100}
\clade{c13}{436}{c12}{t48}{60}
\clade{c14}{418}{c11}{c13}{}
\clade{d1}{490}{t49}{t50}{100}
\clade{d2}{458}{d1}{t51}{100}
\clade{d3}{446}{d2}{t52}{98}
\clade{d4}{440}{d3}{t53}{100}
\clade{d5}{475}{t54}{t55}{100}
\clade{d6}{431}{d4}{d5}{79}
\clade{NOS}{405}{c14}{d6}{100}
\clade{CHR}{411}{t56}{t57}{100}
\clade{NC}{392}{NOS}{CHR}{100}
\clade{e1}{521}{t58}{t59}{100}
\clade{e2}{519}{e1}{t60}{45}
\clade{e3}{519}{t61}{t62}{78}
\clade{e4}{519}{t63}{t64}{78}
\clade{e5}{517}{e2}{e3}{73}
\clade{e6}{515}{e5}{e4}{100}
\clade{e7}{482}{t65}{t66}{100}
\clade{e8}{453}{e7}{t67}{95}
\clade{e9}{445}{e6}{e8}{54}
\clade{e10}{493}{t68}{t69}{100}
\clade{e11}{508}{t70}{t71}{100}
\clade{e12}{472}{e10}{e11}{100}
\clade{e13}{483}{t72}{t73}{100}
\clade{e14}{459}{e12}{e13}{100}
\clade{e15}{440}{e9}{e14}{59}
\clade{f1}{532}{t74}{t75}{22}
\clade{f2}{531.5}{f1}{t76}{2}
\clade{f3}{531}{f2}{t77}{7}
\clade{f4}{530.5}{f3}{t78}{4}
\clade{f5}{530}{f4}{t79}{9}
\clade{f6}{529.5}{f5}{t80}{7}
\clade{f7}{529}{f6}{t81}{100}
\clade{f8}{524}{f7}{t82}{100}
\clade{e16}{435}{e15}{f8}{73}
\clade{g1}{486}{t83}{t84}{100}
\clade{g2}{452}{g1}{t85}{100}
\clade{CP}{429}{e16}{g2}{47}
\clade{h1}{529.5}{t86}{t87}{65}
\clade{h2}{529}{h1}{t88}{56}
\clade{h3}{528.5}{h2}{t89}{56}
\clade{h4}{528}{h3}{t90}{95}
\clade{h5}{524}{h4}{t91}{100}
\clade{h6}{515}{h5}{t92}{100}
\clade{h7}{494}{h6}{t93}{100}
\clade{h8}{536}{t94}{t95}{100}
\clade{h9}{526}{h8}{t96}{100}
\clade{h10}{509}{h9}{t97}{100}
\clade{h11}{529}{t98}{t99}{100}
\clade{h12}{494}{h10}{h11}{100}
\clade{h13}{437}{h7}{h12}{84}
\clade{h14}{499}{t100}{t101}{98}
\clade{h15}{492}{h14}{t102}{100}
\clade{h16}{412}{h13}{h15}{100}
\clade{i1}{458}{t103}{t104}{100}
\clade{i2}{415}{i1}{t105}{100}
\clade{i3}{400}{h16}{i2}{73}
\clade{i4}{395}{t106}{t107}{100}
\clade{i5}{385}{i3}{i4}{}
\clade{j1}{476}{t108}{t109}{100}
\clade{j2}{476}{t110}{t111}{100}
\clade{j3}{473}{j1}{j2}{100}
\clade{j4}{470}{t112}{t113}{100}
\clade{j5}{419}{j3}{j4}{100}
\clade{j6}{395}{j5}{t114}{99}
\clade{j7}{388}{t115}{t116}{100}
\clade{j8}{380}{j6}{j7}{99}
\clade{k1}{454}{t117}{t118}{33}
\clade{k2}{453}{k1}{t119}{100}
\clade{k3}{439}{k2}{t120}{100}
\clade{k4}{400}{k3}{t121}{100}
\clade{k5}{390}{k4}{t122}{98}
\clade{k6}{392}{t123}{t124}{84}
\clade{k7}{378}{k5}{k6}{95}
\clade{k8}{366}{j8}{k7}{100}
\clade{OSC}{358}{i5}{k8}{99}
\clade{U1}{375}{NC}{CP}{100}
\clade{U2}{350}{U1}{OSC}{76}
\clade{m1}{498}{t125}{t126}{100}
\clade{m2}{491}{m1}{t127}{100}
\clade{m3}{488}{m2}{t128}{99}
\clade{m4}{484}{m3}{t129}{100}
\clade{m5}{463}{m4}{t130}{100}
\clade{m6}{416}{m5}{t131}{100}
\clade{m7}{385}{m6}{t132}{97}
\clade{U3}{340}{U2}{m7}{96}
\clade{U4}{330}{U3}{t133}{76}
\clade{p1}{426}{t134}{t135}{100}
\clade{p2}{406}{p1}{t136}{100}
\clade{U5}{318}{U4}{p2}{52}
\clade{q1}{779}{t137}{t138}{66}
\clade{q2}{778}{q1}{t139}{48}
\clade{q3}{775}{q2}{t140}{98}
\clade{q4}{772}{q3}{t141}{98}
\clade{q5}{769}{q4}{t142}{100}
\clade{q6}{766}{q5}{t143}{100}
\clade{q7}{763}{q6}{t144}{}
\clade{q8}{765}{t145}{t146}{100}
\clade{q9}{749}{q7}{q8}{100}
\clade{q10}{691}{t147}{t148}{100}
\clade{q11}{686}{q10}{t149}{100}
\clade{q12}{627}{q9}{q11}{100}
\clade{q13}{624}{t150}{t151}{99}
\clade{q14}{607}{q12}{q13}{100}
\clade{q15}{595}{t152}{t153}{100}
\clade{q16}{565}{q14}{q15}{100}
\clade{r1}{612}{t154}{t155}{95}
\clade{r2}{609}{r1}{t156}{100}
\clade{r3}{590}{r2}{t157}{89}
\clade{r4}{606}{t158}{t159}{100}
\clade{r5}{585}{r3}{r4}{58}
\clade{r6}{579}{r5}{t160}{70}
\clade{r7}{573}{r6}{t161}{100}
\clade{r8}{551}{q16}{r7}{60}
\clade{s1}{594}{t162}{t163}{100}
\clade{s2}{564}{s1}{t164}{100}
\clade{s3}{553}{s2}{t165}{100}
\clade{s4}{528}{r8}{s3}{100}
\clade{s5}{520}{s4}{t166}{94}
\clade{s6}{546}{t167}{t168}{70}
\clade{s7}{535}{s6}{t169}{42}
\clade{s8}{528}{s7}{t170}{97}
\clade{s9}{514}{s5}{s8}{}
\clade{s10}{502}{s9}{t171}{100}
\clade{u1}{435}{t172}{t173}{100}
\clade{u2}{434}{u1}{t174}{97}
\clade{u3}{432}{u2}{t175}{98}
\clade{u4}{432}{t176}{t177}{100}
\clade{u5}{427}{u3}{u4}{100}
\clade{SPE}{300}{s10}{u5}{100}
\clade{U6}{283}{U5}{SPE}{34}
\clade{N3}{270}{U6}{t178}{}
\clade{v1}{431}{t179}{t180}{100}
\clade{v2}{405}{v1}{t181}{}
\clade{N2}{262}{N3}{v2}{}
\clade{GB}{375}{t182}{t183}{100}
\clade{N1}{252}{N2}{GB}{100}
\clade{R0}{244}{N1}{t184}{}

\draw[branch] (282,178.6) -- (286,177.4);
\draw[branch] (287,178.6) -- (291,177.4);
\end{tikzpicture}
\end{document}
